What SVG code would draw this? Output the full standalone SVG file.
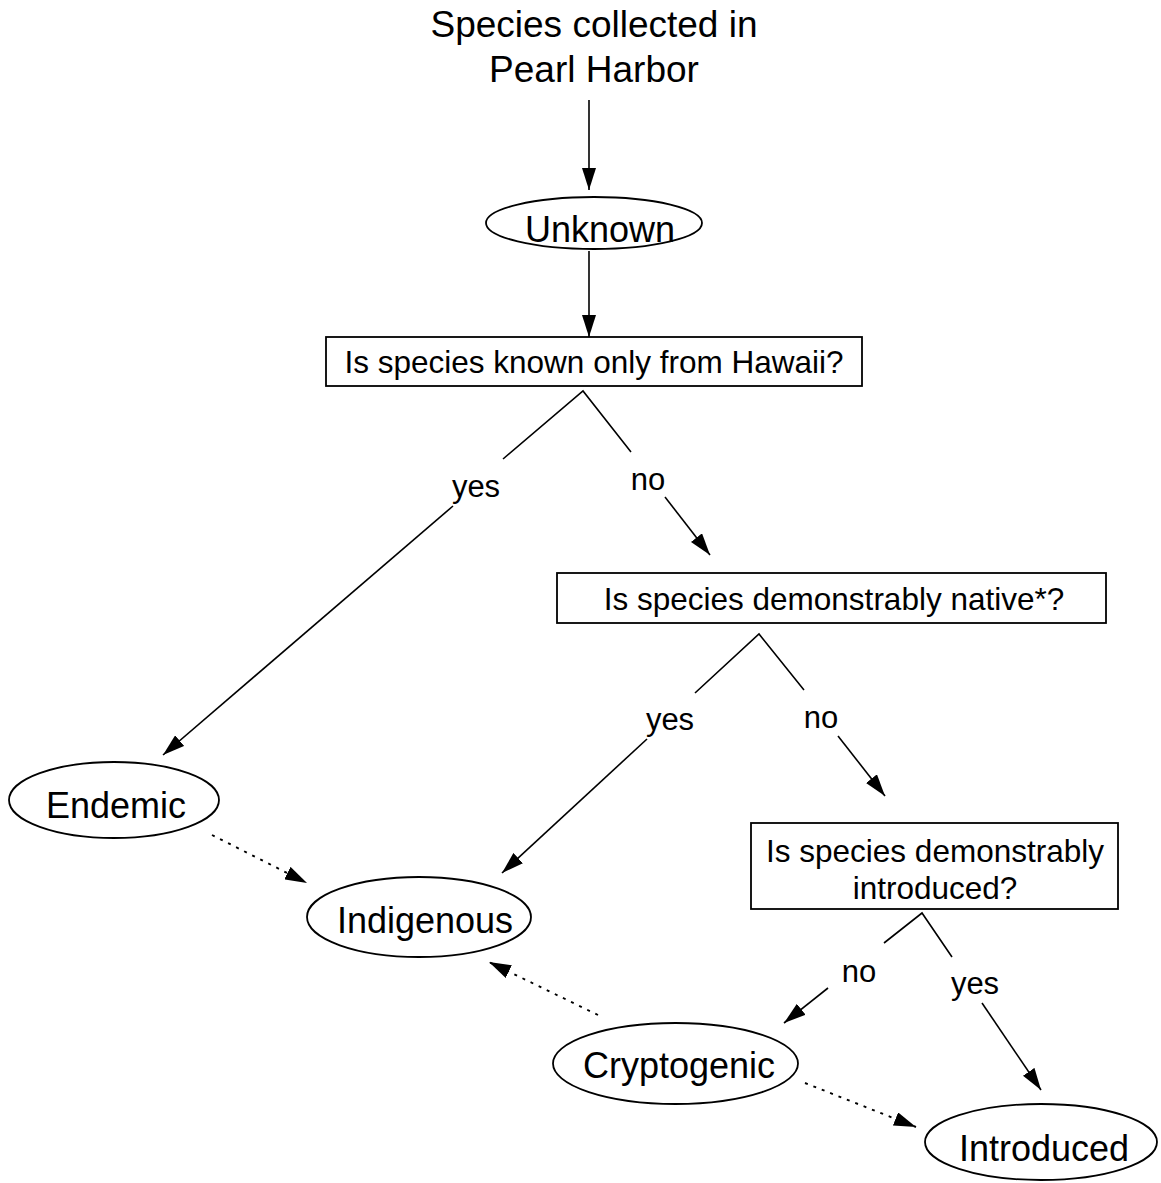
<svg xmlns="http://www.w3.org/2000/svg" width="1161" height="1183" viewBox="0 0 1161 1183">
<style>
text{font-family:"Liberation Sans",Arial,sans-serif;fill:#000;text-anchor:middle}
.big{font-size:36px}
.ttl{font-size:37px}
.box{font-size:31.5px}
.lbl{font-size:31px}
.node{fill:#fff;stroke:#000;stroke-width:1.8}
.edge{fill:none;stroke:#000;stroke-width:1.6}
.dot{fill:none;stroke:#000;stroke-width:1.9;stroke-dasharray:3,6}
</style>
<defs>
<marker id="ah" markerUnits="userSpaceOnUse" markerWidth="22" markerHeight="14" refX="22" refY="7" orient="auto" viewBox="0 0 22 14">
<path d="M0,0 L22,7 L0,14 z" fill="#000"/>
</marker>
</defs>
<g id="title">
<text class="ttl" x="594" y="37">Species collected in</text>
<text class="ttl" x="594" y="82">Pearl Harbor</text>
</g>
<g id="unknown">
<ellipse class="node" cx="594" cy="223" rx="108" ry="26"/>
<text class="big" x="600" y="242">Unknown</text>
</g>
<g id="q1">
<rect class="node" x="326" y="337" width="536" height="49"/>
<text class="box" x="594" y="373">Is species known only from Hawaii?</text>
</g>
<g id="q2">
<rect class="node" x="557" y="573" width="549" height="50"/>
<text class="box" x="834" y="610">Is species demonstrably native*?</text>
</g>
<g id="q3">
<rect class="node" x="751" y="823" width="367" height="86"/>
<text class="box" x="935" y="862">Is species demonstrably</text>
<text class="box" x="935" y="899">introduced?</text>
</g>
<g id="endemic">
<ellipse class="node" cx="114" cy="800" rx="105" ry="38"/>
<text class="big" x="116" y="818">Endemic</text>
</g>
<g id="indigenous">
<ellipse class="node" cx="419" cy="917" rx="112" ry="40"/>
<text class="big" x="425" y="933">Indigenous</text>
</g>
<g id="cryptogenic">
<ellipse class="node" cx="675.5" cy="1063.5" rx="122.5" ry="40.5"/>
<text class="big" x="679" y="1078">Cryptogenic</text>
</g>
<g id="introduced">
<ellipse class="node" cx="1041" cy="1142" rx="116" ry="38"/>
<text class="big" x="1044" y="1161">Introduced</text>
</g>
<g id="connectors">
<line class="edge" x1="589" y1="100" x2="589" y2="190" marker-end="url(#ah)"/>
<line class="edge" x1="589" y1="251" x2="589" y2="337" marker-end="url(#ah)"/>
<polyline class="edge" points="503,459 583,391 631,452"/>
<line class="edge" x1="453" y1="506" x2="163" y2="755" marker-end="url(#ah)"/>
<line class="edge" x1="665" y1="497" x2="710" y2="555" marker-end="url(#ah)"/>
<polyline class="edge" points="695,693 759,634 804,690"/>
<line class="edge" x1="647" y1="739" x2="502" y2="873" marker-end="url(#ah)"/>
<line class="edge" x1="838" y1="736" x2="885" y2="796" marker-end="url(#ah)"/>
<polyline class="edge" points="884,943 922,913 952,957"/>
<line class="edge" x1="828" y1="988" x2="784" y2="1023" marker-end="url(#ah)"/>
<line class="edge" x1="982" y1="1003" x2="1041" y2="1090" marker-end="url(#ah)"/>
<line class="dot" x1="212" y1="835" x2="307" y2="883" marker-end="url(#ah)"/>
<line class="dot" x1="598" y1="1015" x2="489" y2="962" marker-end="url(#ah)"/>
<line class="dot" x1="805" y1="1083" x2="916" y2="1127" marker-end="url(#ah)"/>
<text class="lbl" x="476" y="497">yes</text>
<text class="lbl" x="648" y="490">no</text>
<text class="lbl" x="670" y="730">yes</text>
<text class="lbl" x="821" y="728">no</text>
<text class="lbl" x="859" y="982">no</text>
<text class="lbl" x="975" y="994">yes</text>
</g>
</svg>
